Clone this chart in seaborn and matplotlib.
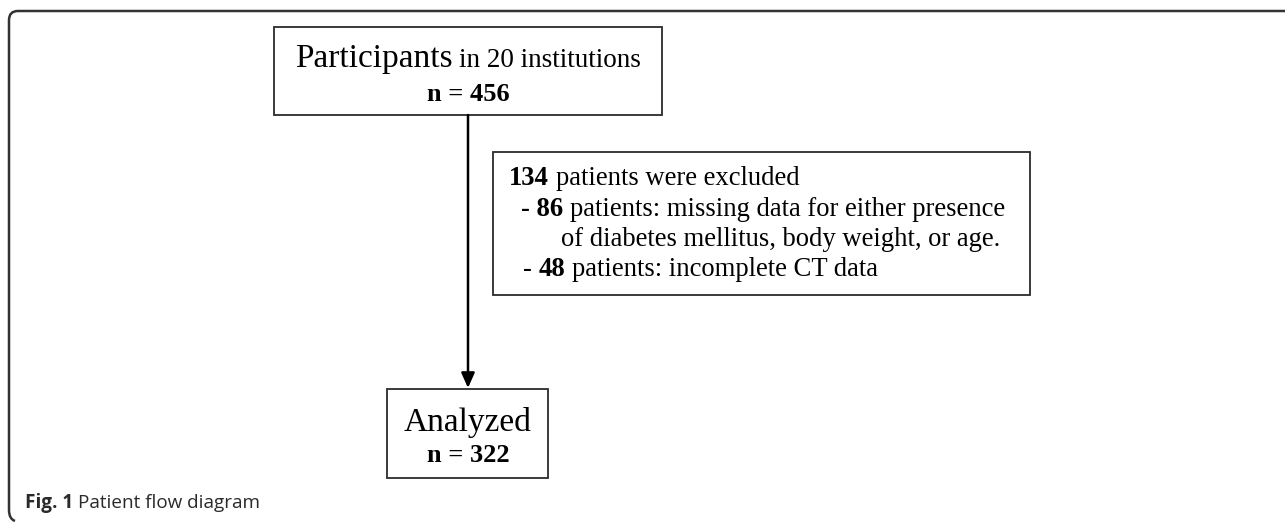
import matplotlib.pyplot as plt
import seaborn as sns
from matplotlib.patches import Rectangle, PathPatch
from matplotlib.path import Path

# --- 1. DADOS DO DIAGRAMA ---
N_INSTITUTIONS = 20
N_PARTICIPANTS = 456
N_EXCLUDED = 134
EXCL_COUNTS = [86, 48]
EXCL_REASONS = [
    ["patients: missing data for either presence",
     "of diabetes mellitus, body weight, or age."],
    ["patients: incomplete CT data"],
]
N_ANALYZED = 322
CAPTION = ["Fig. 1", "Patient flow diagram"]

# --- 2. CONFIGURAÇÕES ---
W, H = 1285, 522
SERIF = ["Liberation Serif", "DejaVu Serif"]
SANS = ["Open Sans", "DejaVu Sans"]
EDGE = "#2b2b2b"

sns.set_theme(style="white")
plt.rcParams["font.family"] = SERIF

fig = plt.figure(figsize=(W / 100, H / 100), dpi=100)
ax = fig.add_axes([0, 0, 1, 1])
ax.set_xlim(0, W)
ax.set_ylim(H, 0)
ax.axis("off")
renderer = fig.canvas.get_renderer()


def draw_runs(runs, x, y, align="left", color="black"):
    """Desenha pedaços de texto com fontes diferentes na mesma linha de base."""
    artists, widths = [], []
    for txt, size, weight, fam, gap in runs:
        t = ax.text(0, y, txt, fontsize=size, fontweight=weight, family=fam,
                    va="baseline", ha="left", color=color)
        w = t.get_window_extent(renderer).width
        g = 0.25 * size * 100 / 72 if gap else 0
        artists.append((t, g))
        widths.append(w + g)
    total = sum(widths)
    x0 = x - total / 2 if align == "center" else x
    for (t, g), w in zip(artists, widths):
        t.set_x(x0 + g)
        x0 += w


def box(x, y, w, h):
    ax.add_patch(Rectangle((x, y), w, h, fill=False, edgecolor=EDGE, lw=1.3))


# moldura externa com cantos arredondados
verts = [(W, 11), (18, 11), (9, 11), (9, 20), (9, 510), (9, 519), (15, 521)]
codes = [Path.MOVETO, Path.LINETO, Path.CURVE3, Path.CURVE3,
         Path.LINETO, Path.CURVE3, Path.CURVE3]
ax.add_patch(PathPatch(Path(verts, codes), fill=False, edgecolor="#333333", lw=1.8))

# caixa superior
box(274, 27, 388, 88)
draw_runs([("Participants", 24, "normal", SERIF, False),
           (f"in {N_INSTITUTIONS} institutions", 19.5, "normal", SERIF, True)],
          468, 67, align="center")
draw_runs([(f"n = {N_PARTICIPANTS}", 19, "bold", SERIF, False)], 468, 101, align="center")

# seta
ax.annotate("", xy=(468, 388), xytext=(468, 115),
            arrowprops=dict(arrowstyle="-|>,head_length=0.9,head_width=0.4",
                            lw=1.8, color="black", shrinkA=0, shrinkB=0,
                            mutation_scale=10))

# caixa de exclusão
box(493, 152, 537, 143)
FS = 19.2
draw_runs([(str(N_EXCLUDED), FS, "bold", SERIF, False),
           ("patients were excluded", FS, "normal", SERIF, True)], 509, 185)
draw_runs([(f"- {EXCL_COUNTS[0]}", FS, "bold", SERIF, False),
           (EXCL_REASONS[0][0], FS, "normal", SERIF, True)], 521, 216)
draw_runs([(EXCL_REASONS[0][1], FS, "normal", SERIF, False)], 561, 246)
draw_runs([("-", FS, "normal", SERIF, False),
           (str(EXCL_COUNTS[1]), FS, "bold", SERIF, True),
           (EXCL_REASONS[1][0], FS, "normal", SERIF, True)], 523, 276)

# caixa inferior
box(387, 389, 161, 89)
draw_runs([("Analyzed", 24, "normal", SERIF, False)], 468, 431, align="center")
draw_runs([(f"n = {N_ANALYZED}", 19, "bold", SERIF, False)], 468, 462, align="center")

# legenda
draw_runs([(CAPTION[0], 13.6, "bold", SANS, False),
           (CAPTION[1], 13.6, "normal", SANS, True)], 25, 508, color="#2a2a2a")

fig.savefig("out.png", dpi=100)
